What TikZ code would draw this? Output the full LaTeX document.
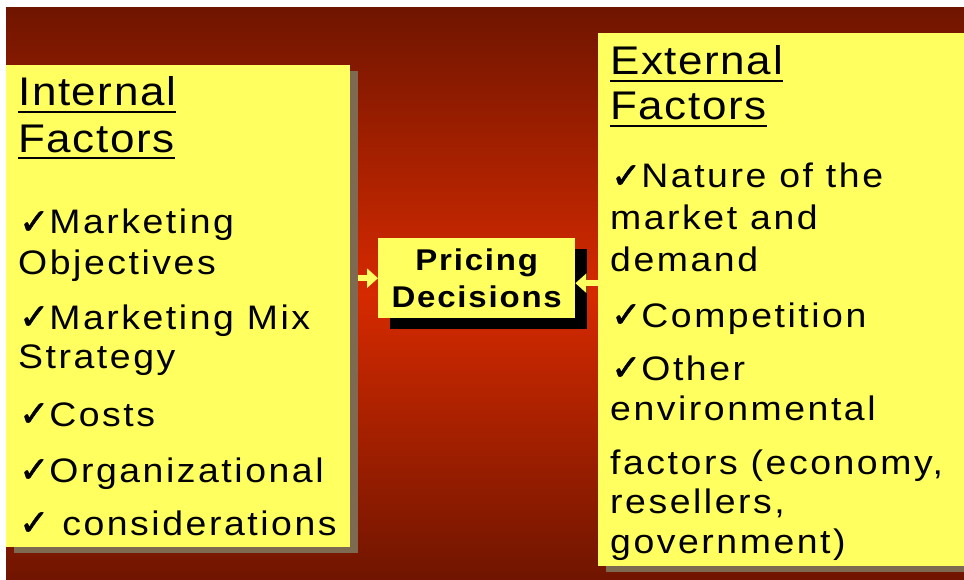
\documentclass[tikz,border=0pt]{standalone}
\usepackage{fontspec}
\setmainfont{Liberation Sans}
\newfontfamily\headfont[LetterSpace=4,FakeStretch=1.1]{Liberation Sans}
\newfontfamily\bodyfont[LetterSpace=7.5,FakeStretch=1.1]{Liberation Sans}
\newfontfamily\pricefont[LetterSpace=6,FakeStretch=1.1]{Liberation Sans}
\newfontfamily\chkfont[FakeBold=1.5]{DejaVu Sans}
\usetikzlibrary{arrows.meta,shadows}
\definecolor{bgdark}{RGB}{112,21,0}
\definecolor{bgmid}{RGB}{214,42,0}
\definecolor{boxyellow}{RGB}{255,255,96}
\definecolor{shadowbrown}{RGB}{125,106,80}
\newcommand{\ck}{{\chkfont\fontsize{36pt}{36pt}\selectfont\char"2713}}
\begin{document}
\begin{tikzpicture}[x=1pt,y=-1pt,
  bigbox/.style={fill=boxyellow, inner sep=0pt, anchor=north west,
    drop shadow={shadow xshift=8pt, shadow yshift=-6pt, fill=shadowbrown, opacity=1}},
  pricebox/.style={fill=boxyellow, inner sep=0pt, anchor=north west, align=center,
    minimum width=197pt, minimum height=80pt,
    font=\pricefont\bfseries\fontsize{30pt}{37pt}\selectfont,
    drop shadow={shadow xshift=12pt, shadow yshift=-11pt, fill=black, opacity=1}},
  txt/.style={anchor=base west, inner sep=0pt, font=\bodyfont\fontsize{34pt}{40pt}\selectfont},
  head/.style={anchor=base west, inner sep=0pt, font=\headfont\fontsize{40pt}{46pt}\selectfont},
  uline/.style={line width=2pt, black},
  yarrow/.style={draw=boxyellow, line width=6pt, -{Triangle[length=11pt,width=19pt]}}]
\useasboundingbox (0,0) rectangle (964,580);
\clip (0,0) rectangle (964,580);
\fill[white] (0,0) rectangle (964,580);
\shade[top color=bgdark, bottom color=bgdark, middle color=bgmid] (6,8) rectangle (964,580);

% boxes
\node[bigbox, minimum width=344pt, minimum height=482pt] (intbox) at (6,65) {};
\node[bigbox, minimum width=380pt, minimum height=533pt] (extbox) at (598,33) {};
\node[pricebox] (price) at (378,238) {Pricing\\Decisions};

% internal factors
\node[head] (l1) at (18,106) {Internal};
\node[head] (l2) at (18,153) {Factors};
\draw[uline] ([yshift=-6pt]l1.base west) -- ([yshift=-6pt]l1.base east);
\draw[uline] ([yshift=-5pt]l2.base west) -- ([yshift=-5pt]l2.base east);
\node[txt] (l3) at (19,234) {\ck Marketing};
\node[txt] (l4) at (18,274) {Objectives};
\node[txt] (l5) at (19,329) {\ck Marketing Mix};
\node[txt] (l6) at (18,368) {Strategy};
\node[txt] (l7) at (19,426) {\ck Costs};
\node[txt] (l8) at (19,482) {\ck Organizational};
\node[txt] (l9) at (19,535) {\ck\ considerations};

% external factors
\node[head] (r1) at (610,75) {External};
\node[head] (r2) at (610,120) {Factors};
\draw[uline] ([yshift=-6pt]r1.base west) -- ([yshift=-6pt]r1.base east);
\draw[uline] ([yshift=-6pt]r2.base west) -- ([yshift=-6pt]r2.base east);
\node[txt] (r3) at (611,188) {\ck Nature of the};
\node[txt] (r4) at (610,230) {market and};
\node[txt] (r5) at (610,271) {demand};
\node[txt] (r6) at (611,327) {\ck Competition};
\node[txt] (r7) at (611,380) {\ck Other};
\node[txt] (r8) at (610,420) {environmental};
\node[txt] (r9) at (610,474) {factors (economy,};
\node[txt] (r10) at (610,513) {resellers,};
\node[txt] (r11) at (610,553) {government)};

% arrows
\coordinate (la) at ([xshift=8pt]intbox.east);
\draw[yarrow] (la |- price.west) -- (price.west);
\coordinate (pe) at ([yshift=-5pt]price.east);
\draw[yarrow] (extbox.west |- pe) -- (pe);
\end{tikzpicture}
\end{document}
